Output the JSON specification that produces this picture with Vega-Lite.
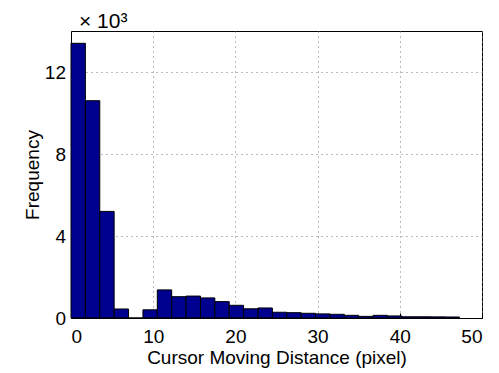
{
  "$schema": "https://vega.github.io/schema/vega-lite/v6.json",
  "width": 411,
  "height": 287,
  "autosize": {"type": "none"},
  "padding": {"left": 71, "top": 31, "right": 17, "bottom": 55},
  "background": "white",
  "title": {"text": "× 10³", "anchor": "start", "frame": "group", "font": "Liberation Sans", "fontSize": 21, "fontWeight": "normal", "color": "#000", "offset": -1, "dx": 8},
  "config": {
    "view": {"stroke": "#000", "strokeWidth": 1},
    "axis": {"labelFont": "Liberation Sans", "titleFont": "Liberation Sans", "labelColor": "#000", "titleColor": "#000", "labelFontSize": 19, "titleFontSize": 19, "titleFontWeight": "normal", "domainColor": "#000", "tickColor": "#000", "tickSize": -5, "gridColor": "#777", "gridDash": [1, 4], "gridWidth": 1, "gridOpacity": 1}
  },
  "data": {"values": [
    {"start": 0, "end": 1.75, "count": 13400},
    {"start": 1.75, "end": 3.5, "count": 10600},
    {"start": 3.5, "end": 5.25, "count": 5200},
    {"start": 5.25, "end": 7.0, "count": 440},
    {"start": 7.0, "end": 8.75, "count": 0},
    {"start": 8.75, "end": 10.5, "count": 400},
    {"start": 10.5, "end": 12.25, "count": 1370},
    {"start": 12.25, "end": 14.0, "count": 1040},
    {"start": 14.0, "end": 15.75, "count": 1070},
    {"start": 15.75, "end": 17.5, "count": 980},
    {"start": 17.5, "end": 19.25, "count": 800},
    {"start": 19.25, "end": 21.0, "count": 620},
    {"start": 21.0, "end": 22.75, "count": 450},
    {"start": 22.75, "end": 24.5, "count": 490},
    {"start": 24.5, "end": 26.25, "count": 280},
    {"start": 26.25, "end": 28.0, "count": 260},
    {"start": 28.0, "end": 29.75, "count": 230},
    {"start": 29.75, "end": 31.5, "count": 200},
    {"start": 31.5, "end": 33.25, "count": 180},
    {"start": 33.25, "end": 35.0, "count": 130},
    {"start": 35.0, "end": 36.75, "count": 80},
    {"start": 36.75, "end": 38.5, "count": 130},
    {"start": 38.5, "end": 40.25, "count": 100},
    {"start": 40.25, "end": 42.0, "count": 60},
    {"start": 42.0, "end": 43.75, "count": 60},
    {"start": 43.75, "end": 45.5, "count": 55},
    {"start": 45.5, "end": 47.25, "count": 50}
  ]},
  "mark": {"type": "bar", "fill": "#00008F", "stroke": "#000", "strokeWidth": 1},
  "encoding": {
    "x": {"field": "start", "type": "quantitative", "scale": {"domain": [0, 50], "nice": false, "zero": false},
      "axis": {"values": [0, 10, 20, 30, 40, 50], "title": "Cursor Moving Distance (pixel)", "labelPadding": 14, "titlePadding": 2, "grid": true}},
    "x2": {"field": "end"},
    "y": {"field": "count", "type": "quantitative", "scale": {"domain": [0, 14000], "nice": false},
      "axis": {"values": [0, 4000, 8000, 12000], "labelExpr": "datum.value / 1000", "title": "Frequency", "labelPadding": 10.5, "titlePadding": 2, "grid": true}},
    "y2": {"datum": 0}
  }
}
